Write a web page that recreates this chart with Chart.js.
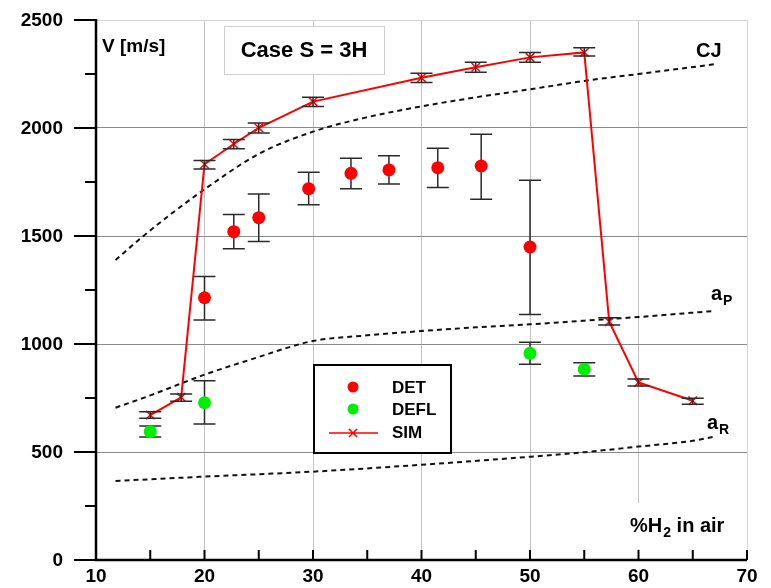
<!DOCTYPE html>
<html>
<head>
<meta charset="utf-8">
<script src="https://cdn.jsdelivr.net/npm/chart.js@4/dist/chart.umd.min.js"></script>
<style>
  body { margin: 0; background: #fff; }
  canvas { display: block; }
</style>
</head>
<body>
<canvas id="c" width="771" height="588"></canvas>
<script>
// axis ticks
const xTicks = [10, 20, 30, 40, 50, 60, 70];
const yTicks = [0, 500, 1000, 1500, 2000, 2500];

// simulation (red line, crosses) with error bars
const simX  = [15, 17.85, 20, 22.7, 25, 30, 40, 45, 50, 55, 57.3, 60, 65];
const simV  = [671, 753, 1832, 1926, 2001, 2122, 2233, 2281, 2327, 2350, 1103, 822, 737];
const simHi = [686, 768, 1849, 1947, 2023, 2142, 2253, 2304, 2350, 2372, 1122, 838, 749];
const simLo = [656, 735, 1810, 1904, 1977, 2099, 2211, 2258, 2304, 2333, 1088, 806, 721];

// detonation measurements
const detX  = [20, 22.7, 25, 29.6, 33.5, 37, 41.5, 45.5, 50];
const detV  = [1214, 1520, 1585, 1719, 1790, 1806, 1816, 1824, 1449];
const detHi = [1312, 1600, 1694, 1795, 1860, 1872, 1906, 1971, 1758];
const detLo = [1111, 1441, 1475, 1645, 1719, 1741, 1725, 1670, 1137];

// deflagration measurements
const deflX  = [15, 20, 50, 55];
const deflV  = [594, 728, 957, 883];
const deflHi = [620, 830, 1008, 913];
const deflLo = [569, 630, 906, 852];

// reference curves
const cjX = [11.8, 14.3, 17, 20, 25, 30, 35, 40, 45, 50, 55, 60, 67];
const cjV = [1389, 1497, 1605, 1716, 1880, 1983, 2050, 2100, 2142, 2179, 2218, 2250, 2295];
const apX = [11.8, 15, 20, 25, 28, 30, 35, 40, 45, 50, 55, 60, 67];
const apV = [705, 762, 858, 940, 988, 1014, 1040, 1060, 1077, 1091, 1108, 1125, 1153];
const arX = [11.8, 20, 30, 40, 50, 55, 60, 65, 67];
const arV = [366, 386, 409, 441, 478, 499, 525, 552, 571];

const pts = (xs, ys) => xs.map((x, i) => ({ x: x, y: ys[i] }));

const FONT = '"Liberation Sans", Arial, sans-serif';

function drawErrors(ctx, xs, lo, hi, sx, sy) {
    ctx.save();
    ctx.strokeStyle = '#2a2a2a';
    ctx.lineWidth = 1.5;
    xs.forEach((x, i) => {
        const px = sx.getPixelForValue(x);
        const a = sy.getPixelForValue(lo[i]);
        const b = sy.getPixelForValue(hi[i]);
        ctx.beginPath();
        ctx.moveTo(px, a); ctx.lineTo(px, b);
        ctx.moveTo(px - 11, a); ctx.lineTo(px + 11, a);
        ctx.moveTo(px - 11, b); ctx.lineTo(px + 11, b);
        ctx.stroke();
    });
    ctx.restore();
}

function subLabel(ctx, base, sub, x, y, size) {
    ctx.font = 'bold ' + size + 'px ' + FONT;
    ctx.fillText(base, x, y);
    const w = ctx.measureText(base).width;
    ctx.font = 'bold ' + Math.round(size * 0.7) + 'px ' + FONT;
    ctx.fillText(sub, x + w + 1, y + 5);
}

const overlay = {
    id: 'overlay',
    beforeDatasetsDraw(chart) {
        const ctx = chart.ctx, sx = chart.scales.x, sy = chart.scales.y;
        drawErrors(ctx, detX, detLo, detHi, sx, sy);
        drawErrors(ctx, deflX, deflLo, deflHi, sx, sy);
    },
    afterDatasetsDraw(chart) {
        const ctx = chart.ctx, sx = chart.scales.x, sy = chart.scales.y;
        const a = chart.chartArea;
        drawErrors(ctx, simX, simLo, simHi, sx, sy);

        ctx.save();
        // title box
        ctx.fillStyle = '#fff';
        ctx.fillRect(224, 26, 160, 48);
        ctx.strokeStyle = '#cfcfcf';
        ctx.lineWidth = 1;
        ctx.strokeRect(224.5, 26.5, 160, 48);
        ctx.fillStyle = '#000';
        ctx.font = 'bold 22px ' + FONT;
        ctx.textAlign = 'center';
        ctx.textBaseline = 'middle';
        ctx.fillText('Case S = 3H', 304, 51);

        // axis title box bottom right
        ctx.fillStyle = '#fff';
        ctx.fillRect(615, 503, 125, 46);

        // axes
        ctx.strokeStyle = '#000';
        ctx.lineWidth = 2.5;
        ctx.beginPath();
        ctx.moveTo(a.left, a.top - 1);
        ctx.lineTo(a.left, a.bottom);
        ctx.lineTo(a.right, a.bottom);
        ctx.stroke();
        ctx.lineWidth = 2;
        ctx.beginPath();
        for (let i = 0; i < yTicks.length; i++) {
            const py = sy.getPixelForValue(yTicks[i]);
            ctx.moveTo(a.left - 22, py); ctx.lineTo(a.left, py);
            if (i < yTicks.length - 1) {
                const pm = sy.getPixelForValue((yTicks[i] + yTicks[i + 1]) / 2);
                ctx.moveTo(a.left - 11, pm); ctx.lineTo(a.left, pm);
            }
        }
        for (let i = 0; i < xTicks.length; i++) {
            const px = sx.getPixelForValue(xTicks[i]);
            ctx.moveTo(px, a.bottom); ctx.lineTo(px, a.bottom - 10);
            if (i < xTicks.length - 1) {
                const pm = sx.getPixelForValue((xTicks[i] + xTicks[i + 1]) / 2);
                ctx.moveTo(pm, a.bottom); ctx.lineTo(pm, a.bottom - 10);
            }
        }
        ctx.stroke();

        // tick labels
        ctx.fillStyle = '#000';
        ctx.font = 'bold 19px ' + FONT;
        ctx.textAlign = 'right';
        ctx.textBaseline = 'middle';
        yTicks.forEach(v => ctx.fillText(String(v), 63, sy.getPixelForValue(v) + 1));
        ctx.textAlign = 'center';
        xTicks.forEach(v => ctx.fillText(String(v), sx.getPixelForValue(v), 577));

        // axis titles and curve labels
        ctx.textAlign = 'left';
        ctx.textBaseline = 'alphabetic';
        ctx.font = 'bold 19px ' + FONT;
        ctx.fillText('V [m/s]', 102, 52);
        ctx.font = 'bold 20px ' + FONT;
        ctx.fillText('CJ', 696, 57);
        subLabel(ctx, 'a', 'P', 711, 300, 20);
        subLabel(ctx, 'a', 'R', 707, 429, 20);
        ctx.font = 'bold 20px ' + FONT;
        ctx.fillText('%H', 630, 532);
        let w = ctx.measureText('%H').width;
        ctx.font = 'bold 14px ' + FONT;
        ctx.fillText('2', 630 + w + 1, 537);
        let w2 = ctx.measureText('2').width;
        ctx.font = 'bold 20px ' + FONT;
        ctx.fillText(' in air', 630 + w + w2 + 1, 532);

        // legend
        ctx.fillStyle = '#fff';
        ctx.fillRect(314, 365, 137, 88);
        ctx.strokeStyle = '#000';
        ctx.lineWidth = 2;
        ctx.strokeRect(314, 365, 137, 88);
        ctx.fillStyle = '#ff0000';
        ctx.beginPath(); ctx.arc(353, 387, 5.5, 0, Math.PI * 2); ctx.fill();
        ctx.fillStyle = '#00ee00';
        ctx.beginPath(); ctx.arc(353, 409, 5.5, 0, Math.PI * 2); ctx.fill();
        ctx.strokeStyle = '#ff0000';
        ctx.lineWidth = 1.5;
        ctx.beginPath();
        ctx.moveTo(329, 433); ctx.lineTo(378, 433);
        ctx.moveTo(349, 429); ctx.lineTo(357, 437);
        ctx.moveTo(349, 437); ctx.lineTo(357, 429);
        ctx.stroke();
        ctx.fillStyle = '#000';
        ctx.font = 'bold 17px ' + FONT;
        ctx.textBaseline = 'middle';
        ctx.fillText('DET', 392, 388);
        ctx.fillText('DEFL', 392, 410);
        ctx.fillText('SIM', 392, 433);
        ctx.restore();
    }
};

const dashed = (xs, ys) => ({
    data: pts(xs, ys),
    showLine: true,
    borderColor: '#111',
    borderWidth: 2,
    borderDash: [5, 4],
    pointRadius: 0,
    cubicInterpolationMode: 'monotone',
    order: 5
});

new Chart(document.getElementById('c'), {
    type: 'scatter',
    data: {
        datasets: [
            {
                label: 'SIM',
                data: pts(simX, simV),
                showLine: true,
                borderColor: '#ff0000',
                borderWidth: 2,
                pointStyle: 'crossRot',
                pointRadius: 6,
                pointBorderWidth: 1.5,
                pointBorderColor: '#ff0000',
                order: 1
            },
            {
                label: 'DET',
                data: pts(detX, detV),
                backgroundColor: '#ff0000',
                borderWidth: 0,
                pointRadius: 6.5,
                order: 2
            },
            {
                label: 'DEFL',
                data: pts(deflX, deflV),
                backgroundColor: '#00ee00',
                borderWidth: 0,
                pointRadius: 6.5,
                order: 2
            },
            Object.assign({ label: 'CJ' }, dashed(cjX, cjV)),
            Object.assign({ label: 'aP' }, dashed(apX, apV)),
            Object.assign({ label: 'aR' }, dashed(arX, arV))
        ]
    },
    options: {
        responsive: false,
        animation: false,
        layout: { padding: { left: 96, top: 20, right: 24, bottom: 28 } },
        plugins: { legend: { display: false }, tooltip: { enabled: false } },
        scales: {
            x: {
                type: 'linear', min: 10, max: 70,
                ticks: { display: false, stepSize: 10 },
                border: { display: false },
                grid: {
                    drawTicks: false,
                    color: c => (c.tick.value === 10 ? 'rgba(0,0,0,0)' : (c.tick.value === 70 ? '#d4d4d4' : '#c2c2c2'))
                }
            },
            y: {
                type: 'linear', min: 0, max: 2500,
                ticks: { display: false, stepSize: 500 },
                border: { display: false },
                grid: {
                    drawTicks: false,
                    color: c => (c.tick.value === 0 ? 'rgba(0,0,0,0)' : (c.tick.value === 2500 ? '#d4d4d4' : '#8a8a8a'))
                }
            }
        }
    },
    plugins: [overlay]
});
</script>
</body>
</html>
